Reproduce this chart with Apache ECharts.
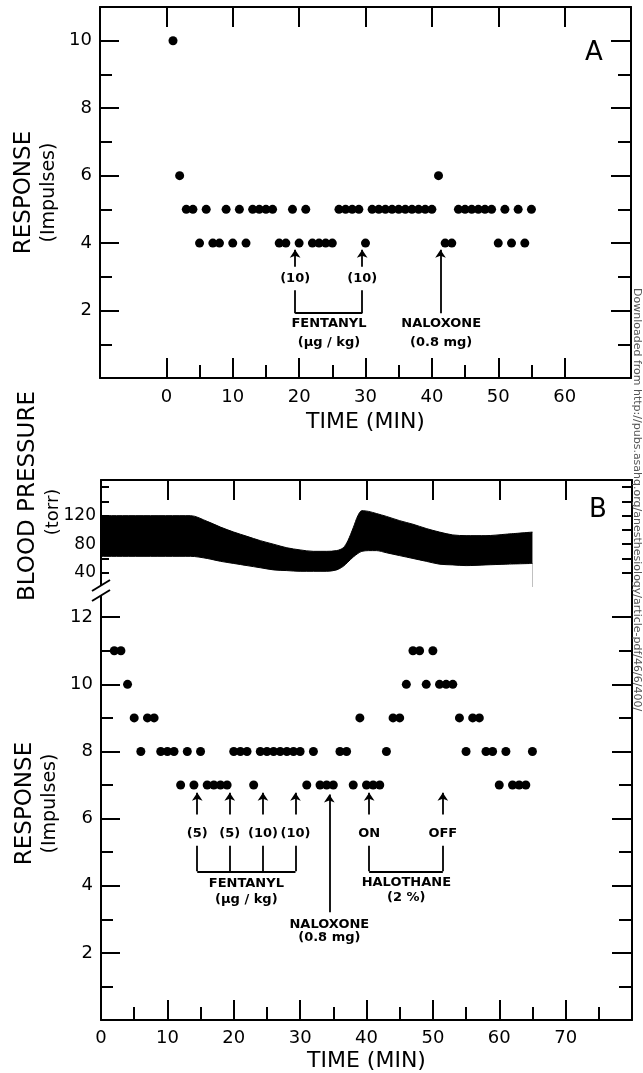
<!DOCTYPE html>
<html>
<head>
<meta charset="utf-8">
<title>Fentanyl / naloxone response</title>
<script src="https://cdn.jsdelivr.net/npm/echarts@6/dist/echarts.min.js"></script>
<style>
  html, body { margin: 0; padding: 0; background: #fff; }
  #chart { width: 643px; height: 1073px; }
</style>
</head>
<body>
<div id="chart"></div>
<script>
// panel A: one count per minute
const timeA = [1, 2, 3, 4, 5, 6, 7, 8, 9, 10, 11, 12, 13, 14, 15, 16, 17, 18, 19, 20,
  21, 22, 23, 24, 25, 26, 27, 28, 29, 30, 31, 32, 33, 34, 35, 36, 37, 38, 39, 40,
  41, 42, 43, 44, 45, 46, 47, 48, 49, 50, 51, 52, 53, 54, 55]
const respA = [10, 6, 5, 5, 4, 5, 4, 4, 5, 4, 5, 4, 5, 5, 5, 5, 4, 4, 5, 4,
  5, 4, 4, 4, 4, 5, 5, 5, 5, 4, 5, 5, 5, 5, 5, 5, 5, 5, 5, 5,
  6, 4, 4, 5, 5, 5, 5, 5, 5, 4, 5, 4, 5, 4, 5]

// panel B
const timeB = [2, 3, 4, 5, 6, 7, 8, 9, 10, 11, 12, 13, 14, 15, 16, 17, 18, 19, 20, 21,
  22, 23, 24, 25, 26, 27, 28, 29, 30, 31, 32, 33, 34, 35, 36, 37, 38, 39, 40, 41,
  42, 43, 44, 45, 46, 47, 48, 49, 50, 51, 52, 53, 54, 55, 56, 57, 58, 59, 60, 61,
  62, 63, 64, 65]
const respB = [11, 11, 10, 9, 8, 9, 9, 8, 8, 8, 7, 8, 7, 8, 7, 7, 7, 7, 8, 8,
  8, 7, 8, 8, 8, 8, 8, 8, 8, 7, 8, 7, 7, 7, 8, 8, 7, 9, 7, 7,
  7, 8, 9, 9, 10, 11, 11, 10, 11, 10, 10, 10, 9, 8, 9, 9, 8, 8, 7, 8,
  7, 7, 7, 8]

// blood pressure trace (torr), upper and lower edge of the band
const bpTime = [0, 13.5, 16, 18, 20, 22, 24, 26, 28, 30, 32, 34, 35.5, 36.5, 37.2, 38,
  38.7, 39.3, 40.3, 41.5, 43, 45, 47, 49, 51, 53, 55, 58, 61, 65]
const bpSys = [120, 120, 112, 104, 97, 91, 85, 80, 75, 72, 70, 70, 71, 75, 85, 103,
  120, 127, 126, 123, 119, 113, 108, 102, 97, 93, 92, 92, 94, 97]
const bpDia = [63, 63, 60, 56, 53, 50, 47, 44, 43, 42, 42, 42, 44, 49, 55, 62,
  67, 70, 71, 71, 68, 64, 60, 56, 52, 51, 50, 51, 52, 53]

// tick labels
const xTicksA = [0, 10, 20, 30, 40, 50, 60]
const xTicksB = [0, 10, 20, 30, 40, 50, 60, 70]
const yTicksA = [2, 4, 6, 8, 10]
const yTicksB = [2, 4, 6, 8, 10, 12]
const bpTicks = [40, 80, 120]

// annotations [x, y, text] and lines [x1, y1, x2, y2]
const notesA = [[19.4, 2.95, "(10)"], [29.5, 2.95, "(10)"], [24.5, 1.6, "FENTANYL"],
  [24.5, 1.05, "(μg / kg)"], [41.4, 1.6, "NALOXONE"], [41.4, 1.05, "(0.8 mg)"]]
const arrowsA = [[19.4, 3.3, 19.4, 3.8], [29.5, 3.3, 29.5, 3.8], [41.3, 1.92, 41.3, 3.8]]
const bracketsA = [[19.4, 2.6, 19.4, 1.92], [19.4, 1.92, 29.5, 1.92], [29.5, 1.92, 29.5, 2.6]]

const notesB = [[14.5, 5.55, "(5)"], [19.4, 5.55, "(5)"], [24.4, 5.55, "(10)"], [29.3, 5.55, "(10)"],
  [21.9, 4.05, "FENTANYL"], [21.9, 3.6, "(μg / kg)"], [34.4, 2.85, "NALOXONE"], [34.4, 2.44, "(0.8 mg)"],
  [40.4, 5.55, "ON"], [51.5, 5.55, "OFF"], [46, 4.1, "HALOTHANE"], [46, 3.65, "(2 %)"]]
const arrowsB = [[14.5, 6.12, 14.5, 6.77], [19.4, 6.12, 19.4, 6.77], [24.4, 6.12, 24.4, 6.77],
  [29.3, 6.12, 29.3, 6.77], [34.4, 3.21, 34.4, 6.72], [40.4, 6.12, 40.4, 6.77], [51.5, 6.12, 51.5, 6.77]]
const bracketsB = [[14.5, 5.19, 14.5, 4.43], [19.4, 5.19, 19.4, 4.43], [24.4, 5.19, 24.4, 4.43],
  [29.3, 5.19, 29.3, 4.43], [14.5, 4.43, 29.3, 4.43],
  [40.4, 5.19, 40.4, 4.43], [51.5, 5.19, 51.5, 4.43], [40.4, 4.43, 51.5, 4.43]]

const FONT = "DejaVu Sans"
const between = (a, b, step) => {
  const out = []
  for (let v = a; v <= b; v += step) out.push(v)
  return out
}

const axis = o => ({
  type: "value",
  gridIndex: o.grid,
  position: o.pos,
  min: o.min,
  max: o.max,
  interval: o.interval,
  z: 10,
  axisLine: { show: !!o.line, onZero: false, lineStyle: { color: "#000", width: 2 } },
  axisTick: {
    show: true,
    inside: true,
    length: o.len,
    customValues: o.ticks,
    lineStyle: { color: "#000", width: 2 },
  },
  axisLabel: o.labels
    ? {
        show: true,
        customValues: o.labels,
        margin: o.margin || 9,
        color: "#000",
        fontFamily: FONT,
        fontSize: o.fontSize || 18,
      }
    : { show: false },
  splitLine: { show: false },
  name: o.name,
  nameLocation: "middle",
  nameGap: o.nameGap,
  nameRotate: o.nameRotate,
  nameTextStyle: o.nameStyle,
})

const segs = (list, arrow) =>
  list.map(([x1, y1, x2, y2]) => [
    { coord: [x1, y1], symbol: "none" },
    { coord: [x2, y2], symbol: arrow ? "arrow" : "none", symbolSize: 8 },
  ])

const notesSeries = (xi, yi, notes, arrows, brackets) => ({
  type: "scatter",
  xAxisIndex: xi,
  yAxisIndex: yi,
  symbolSize: 1,
  itemStyle: { color: "rgba(0,0,0,0)", opacity: 1 },
  silent: true,
  data: notes.map(([x, y, t]) => ({ value: [x, y], name: t })),
  label: {
    show: true,
    position: "inside",
    formatter: "{b}",
    color: "#000",
    fontFamily: FONT,
    fontWeight: "bold",
    fontSize: 13,
  },
  markLine: {
    silent: true,
    animation: false,
    symbol: "none",
    label: { show: false },
    lineStyle: { color: "#000", width: 1.8, type: "solid", opacity: 1 },
    data: segs(arrows, true).concat(segs(brackets, false)),
  },
})

const responseName = {
  rich: {
    a: { fontFamily: FONT, fontSize: 23, lineHeight: 27, color: "#000" },
    b: { fontFamily: FONT, fontSize: 19, lineHeight: 23, color: "#000" },
  },
}
const timeName = { fontFamily: FONT, fontSize: 22, color: "#000" }

const chart = echarts.init(document.getElementById("chart"))

chart.setOption({
  animation: false,
  backgroundColor: "#fff",
  grid: [
    { left: 100, top: 7, width: 531, height: 371 },
    { left: 101, top: 480, width: 531, height: 107 },
    { left: 101, top: 587, width: 531, height: 435 },
  ],
  xAxis: [
    axis({ grid: 0, pos: "bottom", min: -10, max: 70, interval: 10, line: true, len: 20,
      ticks: xTicksA, labels: xTicksA, margin: 10,
      name: "TIME (MIN)", nameGap: 33, nameStyle: timeName }),
    axis({ grid: 0, pos: "bottom", min: -10, max: 70, interval: 5, len: 13, ticks: between(5, 55, 10) }),
    axis({ grid: 0, pos: "top", min: -10, max: 70, interval: 10, line: true, len: 20, ticks: xTicksA }),
    axis({ grid: 1, pos: "top", min: 0, max: 80, interval: 10, line: true, len: 20, ticks: between(10, 70, 10) }),
    axis({ grid: 2, pos: "bottom", min: 0, max: 80, interval: 10, line: true, len: 20,
      ticks: xTicksB, labels: xTicksB, margin: 9,
      name: "TIME (MIN)", nameGap: 30, nameStyle: timeName }),
    axis({ grid: 2, pos: "bottom", min: 0, max: 80, interval: 5, len: 13, ticks: between(5, 75, 10) }),
  ],
  yAxis: [
    axis({ grid: 0, pos: "left", min: 0, max: 11, interval: 2, line: true, len: 19,
      ticks: yTicksA, labels: yTicksA, margin: 8,
      name: "{a|RESPONSE}\n{b|(Impulses)}", nameGap: 31, nameRotate: 90, nameStyle: responseName }),
    axis({ grid: 0, pos: "left", min: 0, max: 11, interval: 1, len: 12, ticks: between(1, 9, 2) }),
    axis({ grid: 0, pos: "right", min: 0, max: 11, interval: 2, line: true, len: 20, ticks: yTicksA }),
    axis({ grid: 0, pos: "right", min: 0, max: 11, interval: 1, len: 13, ticks: between(1, 9, 2) }),
    axis({ grid: 1, pos: "left", min: 20, max: 170, interval: 20, line: true, len: 8,
      ticks: between(40, 160, 20), labels: bpTicks, margin: 5, fontSize: 17 }),
    axis({ grid: 1, pos: "right", min: 20, max: 170, interval: 20, line: true, len: 10,
      ticks: between(40, 160, 20) }),
    axis({ grid: 2, pos: "left", min: 0, max: 12.9, interval: 2, line: true, len: 19,
      ticks: yTicksB, labels: yTicksB, margin: 8,
      name: "{a|RESPONSE}\n{b|(Impulses)}", nameGap: 31, nameRotate: 90, nameStyle: responseName }),
    axis({ grid: 2, pos: "left", min: 0, max: 12.9, interval: 1, len: 12, ticks: between(1, 11, 2) }),
    axis({ grid: 2, pos: "right", min: 0, max: 12.9, interval: 2, line: true, len: 20, ticks: yTicksB }),
    axis({ grid: 2, pos: "right", min: 0, max: 12.9, interval: 1, len: 13, ticks: between(1, 11, 2) }),
  ],
  series: [
    {
      name: "response A",
      type: "scatter",
      xAxisIndex: 0,
      yAxisIndex: 0,
      symbolSize: 9,
      itemStyle: { color: "#000", opacity: 1 },
      data: timeA.map((t, i) => [t, respA[i]]),
    },
    notesSeries(0, 0, notesA, arrowsA, bracketsA),
    {
      name: "systolic",
      type: "line",
      xAxisIndex: 3,
      yAxisIndex: 4,
      smooth: 0.3,
      showSymbol: false,
      z: 2,
      lineStyle: { color: "#000", width: 1 },
      areaStyle: { color: "#000", opacity: 1, origin: "start" },
      data: bpTime.map((t, i) => [t, bpSys[i]]),
    },
    {
      name: "diastolic",
      type: "line",
      xAxisIndex: 3,
      yAxisIndex: 4,
      smooth: 0.3,
      showSymbol: false,
      z: 3,
      lineStyle: { color: "#000", width: 1 },
      areaStyle: { color: "#fff", opacity: 1, origin: "start" },
      data: bpTime.map((t, i) => [t, bpDia[i]]),
    },
    {
      name: "response B",
      type: "scatter",
      xAxisIndex: 4,
      yAxisIndex: 6,
      symbolSize: 9,
      itemStyle: { color: "#000", opacity: 1 },
      data: timeB.map((t, i) => [t, respB[i]]),
    },
    notesSeries(4, 6, notesB, arrowsB, bracketsB),
  ],
  graphic: [
    { type: "text", x: 594, y: 53, z: 20,
      style: { text: "A", fontFamily: FONT, fontSize: 26, fill: "#000", align: "center", verticalAlign: "middle" } },
    { type: "text", x: 598, y: 510, z: 20,
      style: { text: "B", fontFamily: FONT, fontSize: 26, fill: "#000", align: "center", verticalAlign: "middle" } },
    { type: "text", x: 28, y: 496, rotation: Math.PI / 2, z: 20,
      style: { text: "BLOOD PRESSURE", fontFamily: FONT, fontSize: 23, fill: "#000", align: "center", verticalAlign: "middle" } },
    { type: "text", x: 53, y: 512, rotation: Math.PI / 2, z: 20,
      style: { text: "(torr)", fontFamily: FONT, fontSize: 18, fill: "#000", align: "center", verticalAlign: "middle" } },
    // axis break on the left
    { type: "rect", z: 30, shape: { x: 97, y: 586, width: 8, height: 9 }, style: { fill: "#fff" } },
    { type: "line", z: 31, shape: { x1: 92, y1: 591, x2: 110, y2: 580 }, style: { stroke: "#000", lineWidth: 2 } },
    { type: "line", z: 31, shape: { x1: 92, y1: 601, x2: 110, y2: 590 }, style: { stroke: "#000", lineWidth: 2 } },
    { type: "text", x: 637, y: 288, rotation: -Math.PI / 2, z: 20,
      style: { text: "Downloaded from http://pubs.asahq.org/anesthesiology/article-pdf/46/6/400/",
        fontFamily: FONT, fontSize: 11, fill: "#555", align: "left", verticalAlign: "middle" } },
  ],
})
</script>
</body>
</html>
